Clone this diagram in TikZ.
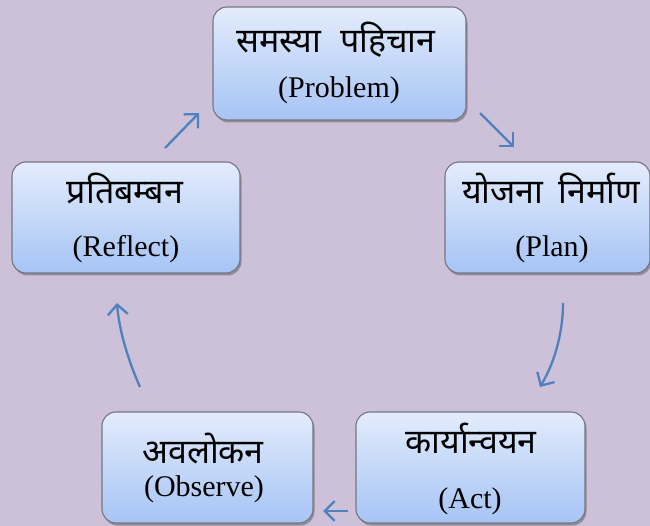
\documentclass[tikz,border=0pt]{standalone}
\usepackage{fontspec}
\setmainfont{Liberation Serif}
\newfontfamily\dev[Script=Devanagari]{Noto Sans}
\usetikzlibrary{arrows.meta,shadows}
\definecolor{bg}{RGB}{205,192,217}
\definecolor{boxtop}{RGB}{227,236,252}
\definecolor{boxbot}{RGB}{166,196,245}
\definecolor{boxline}{RGB}{118,118,128}
\definecolor{arr}{RGB}{79,129,189}
\tikzset{
  stagebox/.style={draw=boxline, line width=1.1pt, rounded corners=14pt,
    top color=boxtop, bottom color=boxbot, inner sep=0pt,
    drop shadow={shadow xshift=1.5pt, shadow yshift=-2.5pt, fill=black!70, opacity=0.45}},
  devtext/.style={font=\dev\fontsize{34}{40}\selectfont, anchor=base, inner sep=0pt},
  lattext/.style={font=\fontsize{30}{36}\selectfont, anchor=base, inner sep=0pt},
  cyc/.style={draw=arr, line width=2.3pt, -{Straight Barb[length=10pt,width=20pt,line width=2.3pt]}}
}
\begin{document}
\begin{tikzpicture}[x=1pt,y=-1pt]
\clip (0,0) rectangle (650,526);
\fill[bg] (0,0) rectangle (650,526);
% boxes
\node[stagebox, minimum width=253pt, minimum height=113pt] (prob) at (339.5,63.5) {};
\node[stagebox, minimum width=205pt, minimum height=111pt] (plan) at (547.5,217.5) {};
\node[stagebox, minimum width=228pt, minimum height=111pt] (refl) at (126,217.5) {};
\node[stagebox, minimum width=211pt, minimum height=111pt] (obs) at (207.5,467.5) {};
\node[stagebox, minimum width=229pt, minimum height=111pt] (act) at (470.5,467.5) {};
% texts
\node[devtext] (probd) at (336,53) {समस्या\hspace{10pt} पहिचान};
\node[lattext] (probl) at (339,98) {(Problem)};
\node[devtext] (pland) at (551,204) {योजना\hspace{6pt} निर्माण};
\node[lattext] (planl) at (552,257) {(Plan)};
\node[devtext] (refld) at (125,204) {प्रतिबम्बन};
\node[lattext] (refll) at (126,257) {(Reflect)};
\node[devtext] (obsd) at (203,463) {अवलोकन};
\node[lattext] (obsl) at (204,496) {(Observe)};
\node[devtext] (actd) at (471,453) {कार्यान्वयन};
\node[lattext] (actl) at (470,508) {(Act)};
% arrow ends
\coordinate (r1) at (165,148); \coordinate (p1) at (199,113);
\coordinate (p2) at (480,113); \coordinate (n2) at (514,147);
\coordinate (n3) at (563,303); \coordinate (a3) at (540,387);
\coordinate (a4) at (348,511); \coordinate (o4) at (323,511);
\coordinate (o5) at (140,387); \coordinate (r5) at (117,303);
\draw[cyc] (r1) -- (p1);
\draw[cyc] (p2) -- (n2);
\draw[cyc] (n3) .. controls (563,330) and (556,360) .. (a3);
\draw[cyc] (a4) -- (o4);
\draw[cyc] (o5) .. controls (128,360) and (119,330) .. (r5);
\end{tikzpicture}
\end{document}
